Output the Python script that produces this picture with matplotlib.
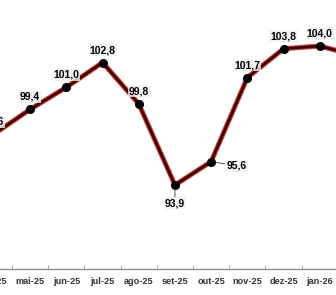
import numpy as np
import matplotlib
matplotlib.use("Agg")
import matplotlib.pyplot as plt
from matplotlib.transforms import blended_transform_factory

# monthly index, the first and last months sit partly outside the crop
months = ["abr-25", "mai-25", "jun-25", "jul-25", "ago-25", "set-25",
          "out-25", "nov-25", "dez-25", "jan-26", "fev-26"]
values = [97.6, 99.4, 101.0, 102.8, 99.8, 93.9, 95.6, 101.7, 103.8, 104.0, 103.3]

LABEL_FONT = ["Liberation Sans", "DejaVu Sans"]
TICK_FONT = ["Liberation Sans", "DejaVu Sans"]


def fmt(v):
    return f"{v:.1f}".replace(".", ",")


def main():
    fig = plt.figure(figsize=(3.36, 2.95), dpi=100)
    ax = fig.add_axes([0, 26 / 295, 1, 269 / 295])
    x = np.arange(len(months))

    # red fringe under a dark maroon core, like the original
    ax.plot(x, values, color="#d23a3a", lw=3.6, solid_joinstyle="round", zorder=2)
    ax.plot(x, values, color="#3a0505", lw=2.0, solid_joinstyle="round", zorder=3,
            marker="o", markersize=5.5, markerfacecolor="black", markeredgecolor="black")

    box = dict(boxstyle="square,pad=0.1", facecolor="#f0f0f0", edgecolor="none", alpha=0.8)
    lead = dict(arrowstyle="-", color="#333333", lw=0.6, shrinkA=0, shrinkB=2)
    for i, v in enumerate(values):
        m = months[i]
        kw = dict(textcoords="offset points", va="center", fontsize=7.5,
                  fontweight="bold", family=LABEL_FONT, bbox=box, annotation_clip=False)
        if m == "set-25":
            ax.annotate(fmt(v), (i, v), xytext=(0, -13), ha="center", arrowprops=lead, **kw)
        elif m == "out-25":
            ax.annotate(fmt(v), (i, v), xytext=(11, -3), ha="left", arrowprops=lead, **kw)
        else:
            ax.annotate(fmt(v), (i, v), xytext=(0, 9), ha="center", **kw)

    tick_kw = dict(family=TICK_FONT, fontsize=6.6, fontweight="bold", color="#333333")
    ax.set_xticks(x)
    ax.set_xticklabels(months, **tick_kw)
    ax.set_xticks(x[:-1] + 0.5, minor=True)
    ax.tick_params(axis="x", which="major", length=0, pad=6)
    ax.tick_params(axis="x", which="minor", direction="in", length=3, color="#999999")
    ax.set_yticks([])

    # limits after the ticks, set_xticks would widen them otherwise
    ax.set_xlim(0.166, 9.45)
    ax.set_ylim(87.8, 107.34)

    # the first month's tick label lies outside the view, draw it by hand
    trans = blended_transform_factory(ax.transData, ax.transAxes)
    ax.annotate(months[0], (0, 0), xycoords=trans, xytext=(0, -6),
                textcoords="offset points", ha="center", va="top",
                annotation_clip=False, **tick_kw)

    for s in ["top", "left", "right"]:
        ax.spines[s].set_visible(False)
    ax.spines["bottom"].set_color("#8a8a8a")
    ax.spines["bottom"].set_linewidth(1.0)

    fig.savefig("out.png", dpi=100)
    plt.close(fig)


if __name__ == "__main__":
    main()
